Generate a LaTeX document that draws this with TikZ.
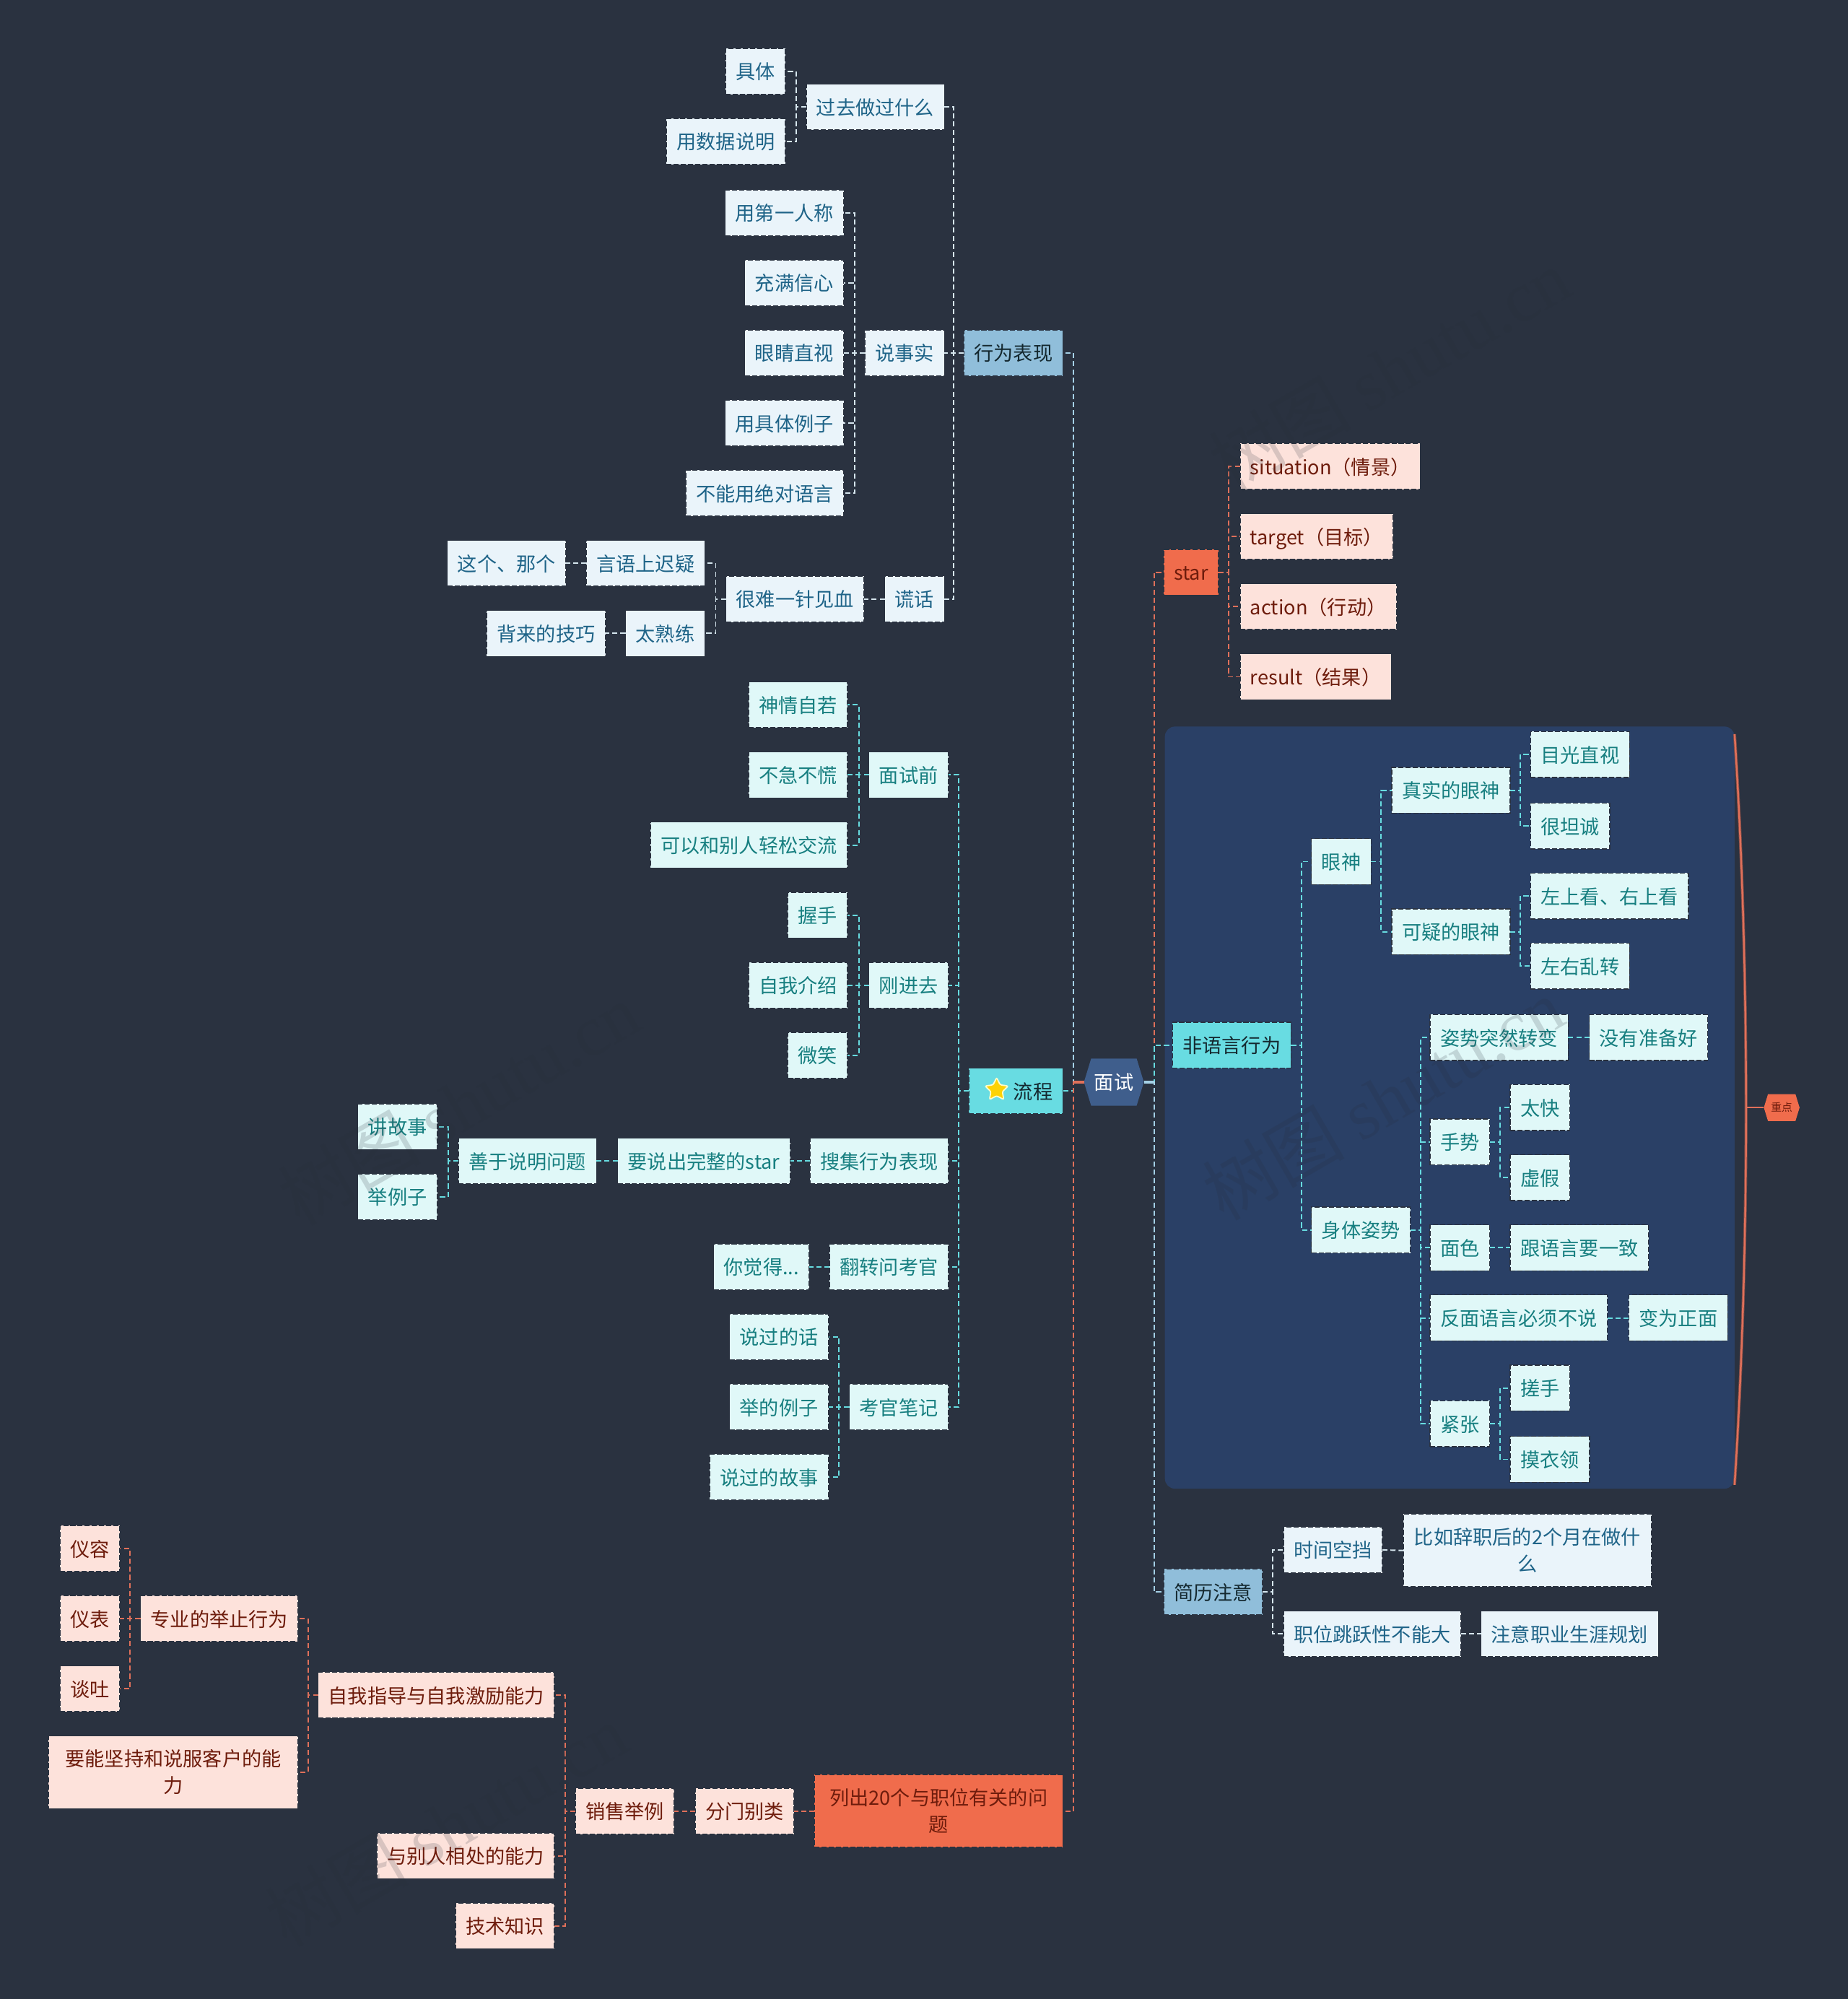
\documentclass[tikz,border=0pt]{standalone}
\usepackage{fontspec}
\setmainfont{Noto Sans CJK SC}
\newfontfamily\markfont{Liberation Serif}
\usetikzlibrary{shapes.geometric,shapes.symbols}
\definecolor{bgdark}{HTML}{2A3240}
\definecolor{panelblue}{HTML}{2A4066}
\definecolor{linkteal}{HTML}{67DCE0}
\definecolor{linkblue}{HTML}{A4D0E6}
\definecolor{linkpale}{HTML}{D6E6EE}
\definecolor{linkred}{HTML}{E0705A}
\definecolor{hexblue}{HTML}{3F5E8C}
\definecolor{redmain}{HTML}{F06C4C}
\definecolor{cyanpale}{HTML}{E0F8F8}
\definecolor{cyantext}{HTML}{177F80}
\definecolor{bluepale}{HTML}{EAF4FA}
\definecolor{bluetext}{HTML}{1F6488}
\definecolor{peachpale}{HTML}{FDE2DB}
\definecolor{redtext}{HTML}{6E1C0C}
\definecolor{cyanstrong}{HTML}{68DCE2}
\definecolor{bluestrong}{HTML}{90BEDA}
\definecolor{darktext}{HTML}{14282F}
\tikzset{
    box/.style={draw=bgdark,line width=0.4pt,dash pattern=on 2pt off 0.8pt,rectangle,outer sep=0pt,inner xsep=4pt,inner ysep=0pt,
        minimum height=18pt,text height=6.8pt,text depth=0.6pt,font=\fontsize{7.7pt}{10.5pt}\selectfont},
    twolines/.style={minimum height=28.5pt,text height=,text depth=,align=center},
    cyanbox/.style={box,fill=cyanpale,text=cyantext},
    bluebox/.style={box,fill=bluepale,text=bluetext},
    peachbox/.style={box,fill=peachpale,text=redtext},
    redbox/.style={box,fill=redmain,text=redtext},
    cyanmain/.style={box,fill=cyanstrong,text=darktext},
    bluemain/.style={box,fill=bluestrong,text=darktext},
    conn/.style={line width=0.55pt,dash pattern=on 2pt off 1.2pt},
    hexnode/.style={signal,signal to=west and east,signal pointer angle=146,inner sep=0pt,outer sep=0pt},
    markstyle/.style={opacity=0.17,text=bgdark!90!black,font=\fontsize{28pt}{30pt}\selectfont,inner sep=0pt}
}
\begin{document}
\begin{tikzpicture}[x=0.5pt,y=-0.5pt]
    \fill[bgdark] (0,0) rectangle (1450,1568.4);
    \useasboundingbox (0,0) rectangle (1450,1568.4);
    \fill[panelblue,rounded corners=4pt] (914,570) rectangle (1361,1168);
    % centre
    \node[hexnode,fill=hexblue,text=white,font=\fontsize{7.7pt}{10.5pt}\selectfont,minimum width=23.5pt,minimum height=18.5pt] (interview) at (874,849) {面试};
    % upper left
    \node[bluemain,anchor=east] (behave) at (834,277) {行为表现};
    \node[bluebox,anchor=east] (past) at (741,84) {过去做过什么};
    \node[bluebox,anchor=east] (concrete) at (616,56) {具体};
    \node[bluebox,anchor=east] (data) at (616,111) {用数据说明};
    \node[bluebox,anchor=east] (facts) at (741,277) {说事实};
    \node[bluebox,anchor=east] (firstp) at (662,167) {用第一人称};
    \node[bluebox,anchor=east] (confident) at (662,222) {充满信心};
    \node[bluebox,anchor=east] (eyes) at (662,277) {眼睛直视};
    \node[bluebox,anchor=east] (examples) at (662,332) {用具体例子};
    \node[bluebox,anchor=east] (absolute) at (662,387) {不能用绝对语言};
    \node[bluebox,anchor=east] (lie) at (741,470) {谎话};
    \node[bluebox,anchor=east] (hard) at (678,470) {很难一针见血};
    \node[bluebox,anchor=east] (hesitate) at (553,442) {言语上迟疑};
    \node[bluebox,anchor=east] (thisthat) at (444,442) {这个、那个};
    \node[bluebox,anchor=east] (skilled) at (553,497) {太熟练};
    \node[bluebox,anchor=east] (recite) at (475,497) {背来的技巧};
    % flow
    \node[cyanmain,anchor=east] (flow) at (834,856) {\hspace{13.5pt}流程};
    \node[star,star points=5,star point ratio=2,fill=yellow!70!orange,draw=yellow!20,line width=0.5pt,inner sep=0pt,minimum size=9.5pt,rounded corners=0.6pt] (flowstar) at (782,855) {};
    \node[cyanbox,anchor=east] (before) at (744,608) {面试前};
    \node[cyanbox,anchor=east] (calm) at (665,553) {神情自若};
    \node[cyanbox,anchor=east] (nohurry) at (665,608) {不急不慌};
    \node[cyanbox,anchor=east] (talk) at (665,663) {可以和别人轻松交流};
    \node[cyanbox,anchor=east] (enter) at (744,773) {刚进去};
    \node[cyanbox,anchor=east] (shake) at (665,718) {握手};
    \node[cyanbox,anchor=east] (intro) at (665,773) {自我介绍};
    \node[cyanbox,anchor=east] (smile) at (665,828) {微笑};
    \node[cyanbox,anchor=east] (collect) at (744,911) {搜集行为表现};
    \node[cyanbox,anchor=east] (whole) at (620,911) {要说出完整的star};
    \node[cyanbox,anchor=east] (explain) at (468,911) {善于说明问题};
    \node[cyanbox,anchor=east] (story) at (343,884) {讲故事};
    \node[cyanbox,anchor=east] (instance) at (343,939) {举例子};
    \node[cyanbox,anchor=east] (turn) at (744,994) {翻转问考官};
    \node[cyanbox,anchor=east] (youthink) at (635,994) {你觉得...};
    \node[cyanbox,anchor=east] (notes) at (744,1104) {考官笔记};
    \node[cyanbox,anchor=east] (said) at (650,1049) {说过的话};
    \node[cyanbox,anchor=east] (gave) at (650,1104) {举的例子};
    \node[cyanbox,anchor=east] (told) at (650,1159) {说过的故事};
    % lower left
    \node[redbox,twolines,anchor=east,minimum width=97.5pt] (list) at (834,1421) {列出20个与职位有关的问\\题};
    \node[peachbox,anchor=east] (sort) at (623,1421) {分门别类};
    \node[peachbox,anchor=east] (sales) at (529,1421) {销售举例};
    \node[peachbox,anchor=east] (selfguide) at (435,1330) {自我指导与自我激励能力};
    \node[peachbox,anchor=east] (getalong) at (435,1456) {与别人相处的能力};
    \node[peachbox,anchor=east] (tech) at (435,1511) {技术知识};
    \node[peachbox,anchor=east] (manner) at (234,1270) {专业的举止行为};
    \node[peachbox,twolines,anchor=east,minimum width=98pt] (persuade) at (234,1390.5) {要能坚持和说服客户的能\\力};
    \node[peachbox,anchor=east] (looks) at (94,1215) {仪容};
    \node[peachbox,anchor=east] (dress) at (94,1270) {仪表};
    \node[peachbox,anchor=east] (speech) at (94,1325) {谈吐};
    % upper right
    \node[redbox,anchor=west] (star) at (913,449) {star};
    \node[peachbox,anchor=west] (situation) at (973,366) {situation（情景）};
    \node[peachbox,anchor=west] (target) at (973,421) {target（目标）};
    \node[peachbox,anchor=west] (action) at (973,476) {action（行动）};
    \node[peachbox,anchor=west] (result) at (973,531) {result（结果）};
    % panel
    \node[cyanmain,anchor=west] (nonverbal) at (920,820) {非语言行为};
    \node[cyanbox,anchor=west] (look) at (1029,676) {眼神};
    \node[cyanbox,anchor=west] (truelook) at (1092,620) {真实的眼神};
    \node[cyanbox,anchor=west] (gaze) at (1201,592) {目光直视};
    \node[cyanbox,anchor=west] (frank) at (1201,648) {很坦诚};
    \node[cyanbox,anchor=west] (doubtlook) at (1092,731) {可疑的眼神};
    \node[cyanbox,anchor=west] (upward) at (1201,703) {左上看、右上看};
    \node[cyanbox,anchor=west] (roll) at (1201,758) {左右乱转};
    \node[cyanbox,anchor=west] (posture) at (1029,965) {身体姿势};
    \node[cyanbox,anchor=west] (sudden) at (1122,814) {姿势突然转变};
    \node[cyanbox,anchor=west] (unready) at (1247,814) {没有准备好};
    \node[cyanbox,anchor=west] (gesture) at (1122,896) {手势};
    \node[cyanbox,anchor=west] (tooquick) at (1185,869) {太快};
    \node[cyanbox,anchor=west] (fake) at (1185,924) {虚假};
    \node[cyanbox,anchor=west] (face) at (1122,979) {面色};
    \node[cyanbox,anchor=west] (match) at (1185,979) {跟语言要一致};
    \node[cyanbox,anchor=west] (negative) at (1122,1034) {反面语言必须不说};
    \node[cyanbox,anchor=west] (positive) at (1278,1034) {变为正面};
    \node[cyanbox,anchor=west] (nervous) at (1122,1117) {紧张};
    \node[cyanbox,anchor=west] (rub) at (1185,1089) {搓手};
    \node[cyanbox,anchor=west] (collar) at (1185,1145) {摸衣领};
    % lower right
    \node[bluemain,anchor=west] (resume) at (913,1249) {简历注意};
    \node[bluebox,anchor=west] (gap) at (1007,1216) {时间空挡};
    \node[bluebox,twolines,anchor=west,minimum width=97.5pt] (twomonths) at (1101,1216.5) {比如辞职后的2个月在做什\\么};
    \node[bluebox,anchor=west] (jump) at (1007,1282) {职位跳跃性不能大};
    \node[bluebox,anchor=west] (career) at (1162,1282) {注意职业生涯规划};
    % summary mark
    \coordinate (bracemid) at (1370,869);
    \node[hexnode,fill=redmain,text=redtext,font=\fontsize{4.2pt}{5pt}\selectfont,minimum width=14pt,minimum height=10.5pt] (keypoint) at (1398,869) {重点};
    \draw[draw=bgdark!60!redmain,double=linkred,double distance=0.7pt,line width=0.25pt] (1361,576) .. controls (1373,760) and (1373,980) .. (1361,1165);
    \draw[linkred,line width=0.5pt] (bracemid) -- (keypoint.west);
    % links, left side
    \draw[conn,linkteal] (interview.west) -- ++(-8,0) |- (flow.east);
    \draw[conn,linkblue] (interview.west) -- ++(-8,0) |- (behave.east);
    \draw[conn,linkred] (interview.west) -- ++(-8,0) |- (list.east);
    \draw[linkred,line width=0.9pt] (interview.west) -- ++(-8,0);
    \foreach \kid in {past,facts,lie}
    {\draw[conn,linkpale] (behave.west) -- ++(-8,0) |- (\kid.east);}
    \foreach \kid in {concrete,data}
    {\draw[conn,linkpale] (past.west) -- ++(-8,0) |- (\kid.east);}
    \foreach \kid in {firstp,confident,eyes,examples,absolute}
    {\draw[conn,linkpale] (facts.west) -- ++(-8,0) |- (\kid.east);}
    \foreach \kid in {hesitate,skilled}
    {\draw[conn,linkpale] (hard.west) -- ++(-8,0) |- (\kid.east);}
    \draw[conn,linkpale] (lie.west) -- (hard.east);
    \draw[conn,linkpale] (hesitate.west) -- (thisthat.east);
    \draw[conn,linkpale] (skilled.west) -- (recite.east);
    \foreach \kid in {before,enter,collect,turn,notes}
    {\draw[conn,linkteal] (flow.west) -- ++(-8,0) |- (\kid.east);}
    \foreach \kid in {calm,nohurry,talk}
    {\draw[conn,linkteal] (before.west) -- ++(-8,0) |- (\kid.east);}
    \foreach \kid in {shake,intro,smile}
    {\draw[conn,linkteal] (enter.west) -- ++(-8,0) |- (\kid.east);}
    \foreach \kid in {said,gave,told}
    {\draw[conn,linkteal] (notes.west) -- ++(-8,0) |- (\kid.east);}
    \foreach \kid in {story,instance}
    {\draw[conn,linkteal] (explain.west) -- ++(-8,0) |- (\kid.east);}
    \draw[conn,linkteal] (collect.west) -- (whole.east);
    \draw[conn,linkteal] (whole.west) -- (explain.east);
    \draw[conn,linkteal] (turn.west) -- (youthink.east);
    \draw[conn,linkred] (list.west) -- (sort.east);
    \draw[conn,linkred] (sort.west) -- (sales.east);
    \foreach \kid in {selfguide,getalong,tech}
    {\draw[conn,linkred] (sales.west) -- ++(-8,0) |- (\kid.east);}
    \foreach \kid in {manner,persuade}
    {\draw[conn,linkred] (selfguide.west) -- ++(-8,0) |- (\kid.east);}
    \foreach \kid in {looks,dress,speech}
    {\draw[conn,linkred] (manner.west) -- ++(-8,0) |- (\kid.east);}
    % links, right side
    \draw[conn,linkred] (interview.east) -- ++(8,0) |- (star.west);
    \draw[conn,linkteal] (interview.east) -- ++(8,0) |- (nonverbal.west);
    \draw[conn,linkblue] (interview.east) -- ++(8,0) |- (resume.west);
    \draw[linkblue,line width=0.9pt] (interview.east) -- ++(8,0);
    \foreach \kid in {situation,target,action,result}
    {\draw[conn,linkred] (star.east) -- ++(8,0) |- (\kid.west);}
    \foreach \kid in {look,posture}
    {\draw[conn,linkteal] (nonverbal.east) -- ++(8,0) |- (\kid.west);}
    \foreach \kid in {truelook,doubtlook}
    {\draw[conn,linkteal] (look.east) -- ++(8,0) |- (\kid.west);}
    \foreach \kid in {gaze,frank}
    {\draw[conn,linkteal] (truelook.east) -- ++(8,0) |- (\kid.west);}
    \foreach \kid in {upward,roll}
    {\draw[conn,linkteal] (doubtlook.east) -- ++(8,0) |- (\kid.west);}
    \foreach \kid in {sudden,gesture,face,negative,nervous}
    {\draw[conn,linkteal] (posture.east) -- ++(8,0) |- (\kid.west);}
    \foreach \kid in {tooquick,fake}
    {\draw[conn,linkteal] (gesture.east) -- ++(8,0) |- (\kid.west);}
    \foreach \kid in {rub,collar}
    {\draw[conn,linkteal] (nervous.east) -- ++(8,0) |- (\kid.west);}
    \draw[conn,linkteal] (sudden.east) -- (unready.west);
    \draw[conn,linkteal] (face.east) -- (match.west);
    \draw[conn,linkteal] (negative.east) -- (positive.west);
    \foreach \kid in {gap,jump}
    {\draw[conn,linkpale] (resume.east) -- ++(8,0) |- (\kid.west);}
    \draw[conn,linkpale] (gap.east) -- (twomonths.west);
    \draw[conn,linkpale] (jump.east) -- (career.west);
    % watermark
    \foreach \wx/\wy [count=\wn] in {1085/862,1090/290,360/866,350/1432}
    {\node[markstyle,rotate=30] (mark\wn) at (\wx,\wy) {树图 {\markfont shutu.cn}};}
\end{tikzpicture}
\end{document}
